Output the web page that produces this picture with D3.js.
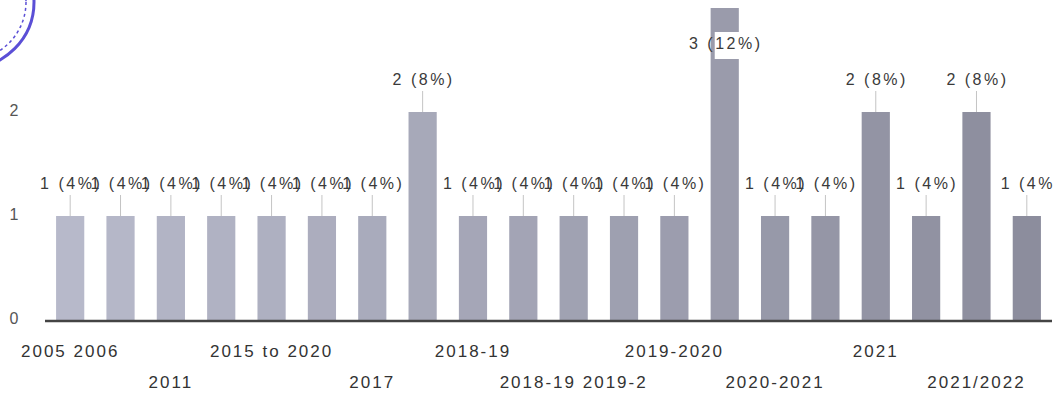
<!DOCTYPE html>
<html>
<head>
<meta charset="utf-8">
<script src="https://cdn.jsdelivr.net/npm/d3@7"></script>
<style>
html,body{margin:0;padding:0;background:#fff;}
svg{display:block;}
</style>
</head>
<body>
<svg id="chart" width="1059" height="409"></svg>
<script>
const categories = ["2005 2006","2006","2011","2012","2015 to 2020","2016","2017","2018","2018-19","2018-19 (b)","2018-19 2019-2","2019","2019-2020","2020","2020-2021","2020-21","2021","2021 (b)","2021/2022","2022"];
const tickLabels = ["2005 2006","","2011","","2015 to 2020","","2017","","2018-19","","2018-19 2019-2","","2019-2020","","2020-2021","","2021","","2021/2022",""];
const values = [1,1,1,1,1,1,1,2,1,1,1,1,1,3,1,1,2,1,2,1];
const valueLabels = ["1 (4%)","1 (4%)","1 (4%)","1 (4%)","1 (4%)","1 (4%)","1 (4%)","2 (8%)","1 (4%)","1 (4%)","1 (4%)","1 (4%)","1 (4%)","3 (12%)","1 (4%)","1 (4%)","2 (8%)","1 (4%)","2 (8%)","1 (4%"];
const yTicks = [0,1,2];

const svg = d3.select("#chart");
const font = "'Liberation Sans', Arial, sans-serif";

const x = d3.scaleBand().domain(categories).range([45, 1052]).paddingInner(0.44).paddingOuter(0.22);
const y = d3.scaleLinear().domain([0, 3]).range([320, 8]);
const color = d3.scaleLinear().domain([0, categories.length - 1]).range(["#b7b9ca", "#8c8d9d"]);

// stamp fragment (top-left)
const stamp = svg.append("g").attr("fill", "none").attr("stroke", "#5b4fd6");
stamp.append("circle").attr("cx", -32).attr("cy", 2).attr("r", 66).attr("stroke-width", 3);
stamp.append("circle").attr("cx", -32).attr("cy", 2).attr("r", 58).attr("stroke-width", 1.5).attr("stroke-dasharray", "3 3");

// y tick labels
svg.append("g").selectAll("text").data(yTicks).join("text")
  .attr("x", 14).attr("y", d => y(d))
  .attr("text-anchor", "middle").attr("dominant-baseline", "middle")
  .attr("font-family", font).attr("font-size", 16).attr("fill", "#555")
  .text(d => d);

// bars
svg.append("g").selectAll("rect").data(values).join("rect")
  .attr("x", (d, i) => x(categories[i]))
  .attr("width", x.bandwidth())
  .attr("y", d => y(d))
  .attr("height", d => y(0) - y(d))
  .attr("fill", (d, i) => color(i));

// axis line
svg.append("line").attr("x1", 45).attr("x2", 1052).attr("y1", y(0) + 1).attr("y2", y(0) + 1)
  .attr("stroke", "#444").attr("stroke-width", 2.5);

// data labels with leader lines
const lbl = svg.append("g");
values.forEach((v, i) => {
  const cx = x(categories[i]) + x.bandwidth() / 2;
  const top = y(v);
  const ly = Math.max(top - 31, 45);
  if (ly + 9 < top) {
    lbl.append("line").attr("x1", cx).attr("x2", cx).attr("y1", ly + 10).attr("y2", top)
      .attr("stroke", "#c4c4c4").attr("stroke-width", 1);
  } else {
    lbl.append("rect").attr("x", cx - 10).attr("y", ly - 13).attr("width", x.bandwidth() + 4).attr("height", 27)
      .attr("fill", "#fff");
  }
  lbl.append("text").attr("x", cx + 1).attr("y", ly)
    .attr("text-anchor", "middle").attr("dominant-baseline", "middle")
    .attr("font-family", font).attr("font-size", 16).attr("letter-spacing", "2.5px")
    .attr("fill", "#3a3a3a")
    .text(valueLabels[i]);
});

// x tick labels, staggered in two rows
let shown = 0;
const xl = svg.append("g");
tickLabels.forEach((t, i) => {
  if (!t) return;
  const row = shown % 2;
  shown++;
  xl.append("text")
    .attr("x", x(categories[i]) + x.bandwidth() / 2)
    .attr("y", row === 0 ? 353 : 384)
    .attr("text-anchor", "middle").attr("dominant-baseline", "middle")
    .attr("font-family", font).attr("font-size", 17).attr("letter-spacing", "2px")
    .attr("fill", "#333")
    .text(t);
});
</script>
</body>
</html>
